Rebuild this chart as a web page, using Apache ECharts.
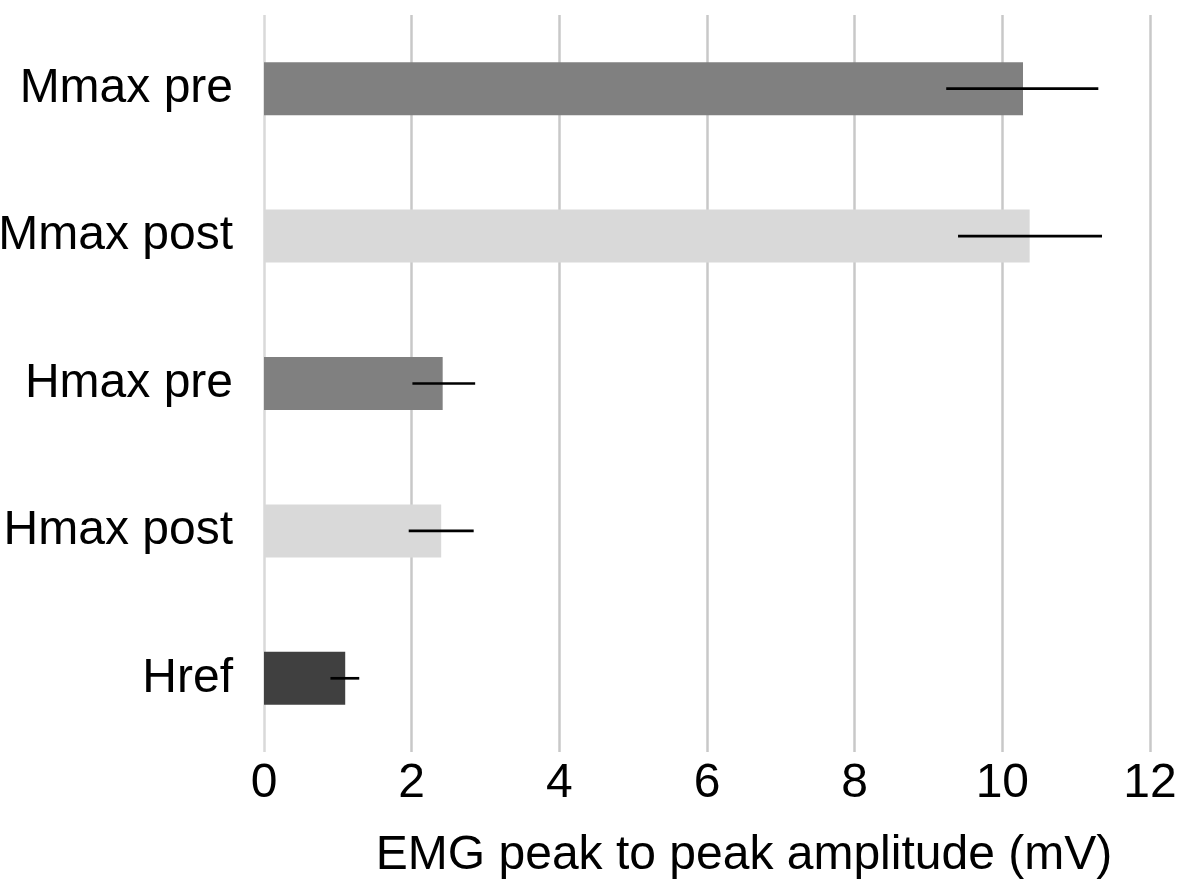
<!DOCTYPE html>
<html>
<head>
<meta charset="utf-8">
<script src="https://cdn.jsdelivr.net/npm/echarts@6/dist/echarts.min.js"></script>
<style>html,body{margin:0;padding:0;background:#fff}#c{width:1182px;height:887px}</style>
</head>
<body>
<div id="c"></div>
<script>
const categories = ['Mmax pre', 'Mmax post', 'Hmax pre', 'Hmax post', 'Href'];
const values = [10.28, 10.37, 2.42, 2.40, 1.10];
const errLow = [9.24, 9.40, 2.01, 1.96, 0.90];
const errHigh = [11.30, 11.35, 2.86, 2.84, 1.29];
const barColors = ['#808080', '#d9d9d9', '#808080', '#d9d9d9', '#404040'];
const xTicks = [0, 2, 4, 6, 8, 10, 12];
const xTitle = 'EMG peak to peak amplitude (mV)';

const FONT = '"Liberation Sans", Arial, sans-serif';
const chart = echarts.init(document.getElementById('c'), null, {renderer: 'canvas'});
chart.setOption({
  animation: false,
  backgroundColor: '#ffffff',
  grid: {left: 264, right: 32, top: 15, bottom: 135, containLabel: false, outerBoundsMode: 'none'},
  xAxis: {
    type: 'value',
    min: xTicks[0], max: xTicks[xTicks.length - 1], interval: 2,
    axisLine: {show: false},
    axisTick: {show: false},
    axisLabel: {color: '#000', fontSize: 48, fontFamily: FONT, margin: 8},
    splitLine: {show: true, lineStyle: {color: ['#d9d9d9', '#c8c8c8', '#c8c8c8', '#c8c8c8', '#c8c8c8', '#c8c8c8', '#c8c8c8'], width: 2.5}},
    name: xTitle,
    nameLocation: 'middle',
    nameGap: 80,
    nameTextStyle: {color: '#000', fontSize: 48, fontFamily: FONT, padding: [0, 0, 0, 74]}
  },
  yAxis: {
    type: 'category',
    data: categories,
    inverse: true,
    axisLine: {show: false},
    axisTick: {show: false},
    splitLine: {show: false},
    axisLabel: {color: '#000', fontSize: 48, fontFamily: FONT, margin: 31}
  },
  series: [
    {
      type: 'bar',
      barWidth: 53,
      data: values.map((v, i) => ({value: v, itemStyle: {color: barColors[i]}})),
      z: 2
    },
    {
      type: 'custom',
      z: 3,
      data: categories.map((c, i) => [i, errLow[i], errHigh[i]]),
      renderItem: function (params, api) {
        const idx = api.value(0);
        const p1 = api.coord([api.value(1), idx]);
        const p2 = api.coord([api.value(2), idx]);
        return {
          type: 'line',
          shape: {x1: p1[0], y1: p1[1], x2: p2[0], y2: p2[1]},
          style: {stroke: '#000', lineWidth: 2.7}
        };
      },
      encode: {x: [1, 2], y: 0}
    }
  ]
});
</script>
</body>
</html>
